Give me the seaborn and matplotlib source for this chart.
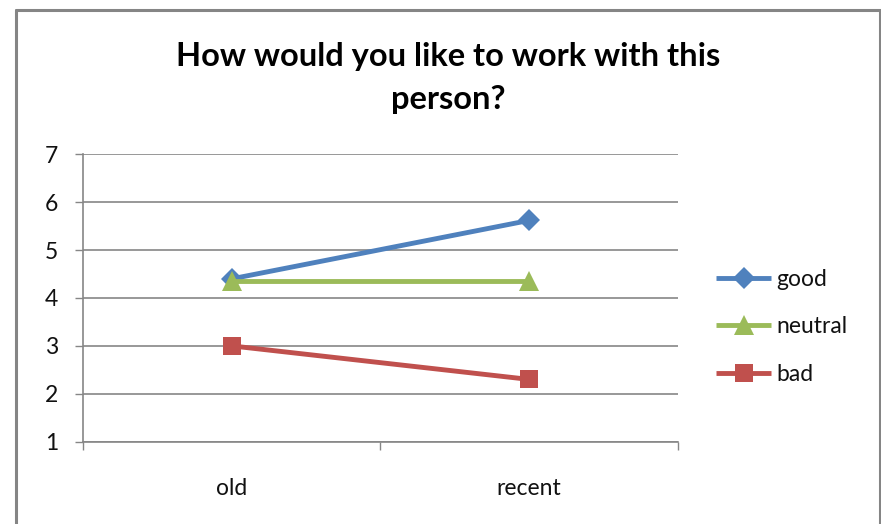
import matplotlib
matplotlib.use("Agg")
import matplotlib.pyplot as plt
from matplotlib.lines import Line2D
import seaborn as sns
import pandas as pd

# Survey answers: mean score per period for each profile
periods = ["old", "recent"]
series_names = ["good", "neutral", "bad"]
good = [4.4, 5.62]
neutral = [4.35, 4.35]
bad = [3.0, 2.3]
y_ticks = [1, 2, 3, 4, 5, 6, 7]
title = "How would you like to work with this\nperson?"

df = pd.DataFrame({
    "period": periods * 3,
    "score": good + neutral + bad,
    "series": [s for s in series_names for _ in periods],
})

sns.set_theme(style="white")
plt.rcParams["font.family"] = ["Lato", "DejaVu Sans"]

W, H = 881, 524
fig = plt.figure(figsize=(W / 100, H / 100), dpi=100)
ax = fig.add_axes([83 / W, 1 - 441.7 / H, (678 - 83) / W, (441.7 - 154.3) / H])

palette = {"good": "#4F81BD", "neutral": "#9BBB59", "bad": "#C0504D"}
markers = {"good": "D", "neutral": "^", "bad": "s"}
sns.lineplot(data=df, x="period", y="score", hue="series", style="series",
             hue_order=series_names, style_order=series_names,
             palette=palette, markers=markers, dashes=False,
             linewidth=3.5, markeredgewidth=0, legend=False, ax=ax, zorder=3)

sizes = {"good": 11, "neutral": 14, "bad": 13.5}
for line, name in zip(ax.lines[:3], series_names):
    line.set_markersize(sizes[name])
    line.set_solid_capstyle("butt")

grid_c = "#868686"
text_c = "#111111"
ax.set_ylim(1, 7)
ax.set_xlim(-0.5, 1.5)
ax.set_yticks(y_ticks)
ax.set_yticklabels([str(v) for v in y_ticks])
for v in y_ticks:
    ax.axhline(v, color=grid_c, lw=1.2, zorder=1)

# category boundaries carry the ticks, labels sit at category centres
ax.set_xticks([-0.5, 0.5, 1.5])
ax.set_xticklabels([])
ax.set_xticks([0, 1], minor=True)
ax.set_xticklabels(periods, minor=True)
ax.tick_params(axis="x", which="major", length=6, width=1, color=grid_c, direction="out")
ax.tick_params(axis="x", which="minor", length=0, pad=26, labelsize=16.5, labelcolor=text_c)
ax.tick_params(axis="y", length=6, width=1, color=grid_c, direction="out",
               pad=12, labelsize=16.5, labelcolor=text_c)
ax.tick_params(bottom=True, left=True)

for side in ["top", "right"]:
    ax.spines[side].set_visible(False)
for side in ["left", "bottom"]:
    ax.spines[side].set_color(grid_c)
    ax.spines[side].set_linewidth(1.2)
ax.set_xlabel("")
ax.set_ylabel("")

fig.text(448 / W, 1 - 78 / H, title, ha="center", va="center",
         fontsize=23.5, fontweight="bold", color="black", linespacing=1.6)

ax.legend(ax.lines[:3], series_names, loc="center left",
          bbox_to_anchor=(716 / W, 1 - 326.7 / H), bbox_transform=fig.transFigure,
          frameon=False, fontsize=16.5, handlelength=2.4, handletextpad=0.25,
          labelspacing=1.15, borderpad=0, borderaxespad=0, labelcolor=text_c)

# outer chart frame
fc = "#858585"
lw = 2.2
fig.add_artist(Line2D([16 / W, 16 / W], [0, 1 - 9.5 / H], color=fc, lw=lw, transform=fig.transFigure))
fig.add_artist(Line2D([16 / W, 879.5 / W], [1 - 9.5 / H, 1 - 9.5 / H], color=fc, lw=lw, transform=fig.transFigure))
fig.add_artist(Line2D([879.5 / W, 879.5 / W], [0, 1 - 9.5 / H], color=fc, lw=lw, transform=fig.transFigure))

fig.savefig("out.png", dpi=100)
